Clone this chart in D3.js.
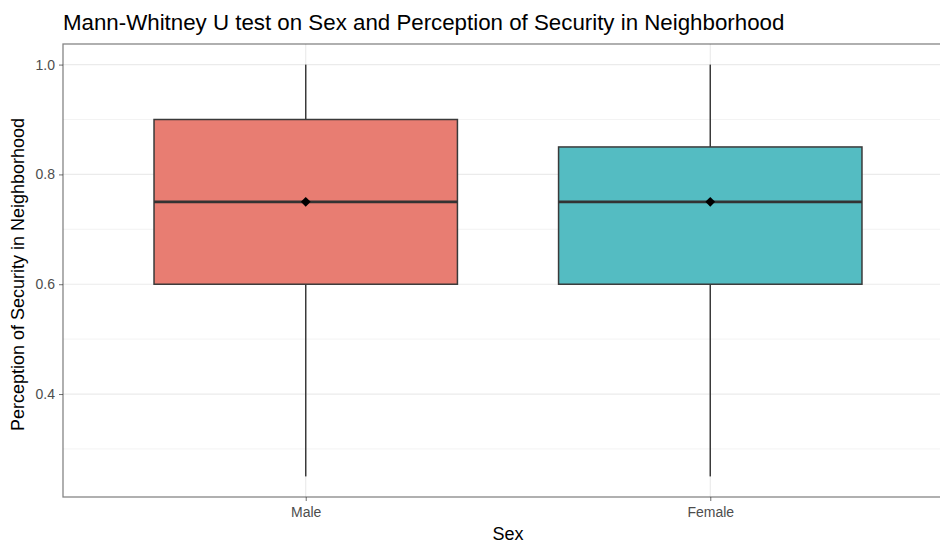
<!DOCTYPE html>
<html>
<head>
<meta charset="utf-8">
<script src="https://cdn.jsdelivr.net/npm/d3@7"></script>
<style>
  html, body { margin: 0; padding: 0; background: #fff; }
  svg { display: block; font-family: "Liberation Sans", Arial, Helvetica, sans-serif; }
</style>
</head>
<body>
<svg id="chart" width="940" height="543"></svg>
<script>
// Group names and box summary statistics
const categories = ["Male", "Female"];
const lowerWhisker = [0.25, 0.25];
const q1 = [0.6, 0.6];
const medians = [0.75, 0.75];
const q3 = [0.9, 0.85];
const upperWhisker = [1.0, 1.0];
const means = [0.75, 0.75];
const fills = ["#E87D72", "#54BCC2"];

const yTicks = [0.4, 0.6, 0.8, 1.0];
const yMinor = [0.3, 0.5, 0.7, 0.9];

const titleText = "Mann-Whitney U test on Sex and Perception of Security in Neighborhood";
const xTitle = "Sex";
const yTitle = "Perception of Security in Neighborhood";

const W = 940, H = 543;
const panel = { left: 63, right: 953, top: 44, bottom: 497 };

const svg = d3.select("#chart");

// y range with 5% padding around the data extent
const yMin = d3.min(lowerWhisker), yMax = d3.max(upperWhisker);
const pad = (yMax - yMin) * 0.05;
const y = d3.scaleLinear().domain([yMin - pad, yMax + pad]).range([panel.bottom, panel.top]);

// discrete x with 0.6 unit expansion on each side
const x = d3.scalePoint().domain(categories)
  .range([panel.left, panel.right]).padding(0.6);
const step = x.step();
const boxW = step * 0.75;

const g = svg.append("g");

// panel background
g.append("rect").attr("x", panel.left).attr("y", panel.top)
  .attr("width", panel.right - panel.left).attr("height", panel.bottom - panel.top)
  .attr("fill", "#fff");

// minor grid
g.selectAll(".minor").data(yMinor).join("line")
  .attr("x1", panel.left).attr("x2", panel.right)
  .attr("y1", d => y(d)).attr("y2", d => y(d))
  .attr("stroke", "#F0F0F0").attr("stroke-width", 0.8);
// major grid
g.selectAll(".major").data(yTicks).join("line")
  .attr("x1", panel.left).attr("x2", panel.right)
  .attr("y1", d => y(d)).attr("y2", d => y(d))
  .attr("stroke", "#EBEBEB").attr("stroke-width", 1.2);
g.selectAll(".vmajor").data(categories).join("line")
  .attr("x1", d => x(d)).attr("x2", d => x(d))
  .attr("y1", panel.top).attr("y2", panel.bottom)
  .attr("stroke", "#EBEBEB").attr("stroke-width", 1.2);

const boxes = g.selectAll(".box").data(categories).join("g");

// whiskers
boxes.append("line")
  .attr("x1", d => x(d)).attr("x2", d => x(d))
  .attr("y1", (d, i) => y(upperWhisker[i])).attr("y2", (d, i) => y(q3[i]))
  .attr("stroke", "#3a3a3a").attr("stroke-width", 1.5);
boxes.append("line")
  .attr("x1", d => x(d)).attr("x2", d => x(d))
  .attr("y1", (d, i) => y(q1[i])).attr("y2", (d, i) => y(lowerWhisker[i]))
  .attr("stroke", "#3a3a3a").attr("stroke-width", 1.5);

// boxes
boxes.append("rect")
  .attr("x", d => x(d) - boxW / 2).attr("width", boxW)
  .attr("y", (d, i) => y(q3[i])).attr("height", (d, i) => y(q1[i]) - y(q3[i]))
  .attr("fill", (d, i) => fills[i]).attr("stroke", "#3a3a3a").attr("stroke-width", 1.5);

// medians
boxes.append("line")
  .attr("x1", d => x(d) - boxW / 2).attr("x2", d => x(d) + boxW / 2)
  .attr("y1", (d, i) => y(medians[i])).attr("y2", (d, i) => y(medians[i]))
  .attr("stroke", "#333").attr("stroke-width", 2.8);

// means
boxes.append("path")
  .attr("d", d3.symbol(d3.symbolSquare, 48))
  .attr("transform", (d, i) => `translate(${x(d)},${y(means[i])}) rotate(45)`)
  .attr("fill", "#000");

// panel border
g.append("rect").attr("x", panel.left).attr("y", panel.top)
  .attr("width", panel.right - panel.left).attr("height", panel.bottom - panel.top)
  .attr("fill", "none").attr("stroke", "#333").attr("stroke-opacity", 0.6).attr("stroke-width", 1.3);

// y axis
const yAxis = d3.axisLeft(y).tickValues(yTicks).tickFormat(d3.format(".1f")).tickSize(4).tickPadding(4);
const ya = svg.append("g").attr("transform", `translate(${panel.left},0)`).call(yAxis);
ya.select(".domain").remove();
ya.selectAll(".tick line").attr("stroke", "#333").attr("stroke-opacity", 0.7);
ya.selectAll(".tick text").attr("fill", "#4D4D4D").attr("font-size", 14)
  .attr("font-family", "Liberation Sans, Arial, sans-serif");

// x axis
const xAxis = d3.axisBottom(x).tickSize(4).tickPadding(6);
const xa = svg.append("g").attr("transform", `translate(0,${panel.bottom})`).call(xAxis);
xa.select(".domain").remove();
xa.selectAll(".tick line").attr("stroke", "#333").attr("stroke-opacity", 0.7);
xa.selectAll(".tick text").attr("fill", "#4D4D4D").attr("font-size", 14)
  .attr("font-family", "Liberation Sans, Arial, sans-serif");

// titles
svg.append("text").attr("x", panel.left).attr("y", 30)
  .attr("font-size", 22.3).attr("fill", "#000").text(titleText);
svg.append("text").attr("x", (panel.left + panel.right) / 2).attr("y", 540)
  .attr("text-anchor", "middle").attr("font-size", 18).attr("fill", "#000").text(xTitle);
svg.append("text")
  .attr("transform", `translate(24,${(panel.top + panel.bottom) / 2 + 4}) rotate(-90)`)
  .attr("text-anchor", "middle").attr("font-size", 18).attr("fill", "#000").text(yTitle);
</script>
</body>
</html>
